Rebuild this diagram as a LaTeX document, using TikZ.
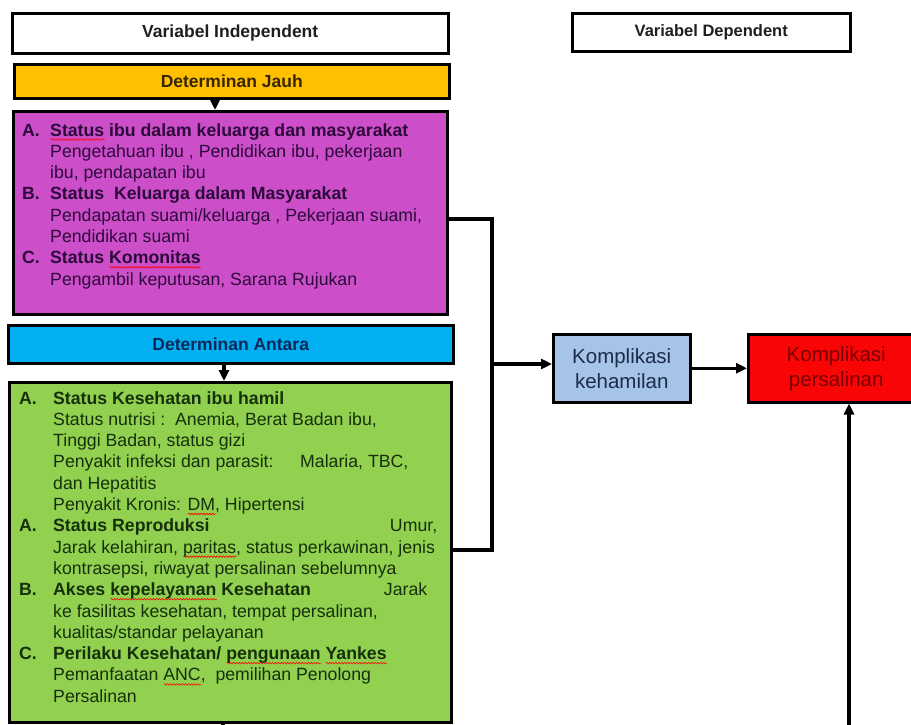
\documentclass[tikz,border=0pt]{standalone}
\usepackage{fontspec}
\setmainfont{Liberation Sans}
\usetikzlibrary{arrows.meta,decorations.pathmorphing}
\definecolor{yelfill}{RGB}{255,192,0}
\definecolor{yeltext}{RGB}{55,38,0}
\definecolor{magfill}{RGB}{204,78,200}
\definecolor{magtext}{RGB}{45,10,60}
\definecolor{antfill}{RGB}{0,176,240}
\definecolor{anttext}{RGB}{12,40,90}
\definecolor{grnfill}{RGB}{146,208,80}
\definecolor{grntext}{RGB}{22,48,12}
\definecolor{kehfill}{RGB}{166,196,232}
\definecolor{kehtext}{RGB}{28,44,78}
\definecolor{perfill}{RGB}{250,5,5}
\definecolor{pertext}{RGB}{120,0,0}
\definecolor{hdrtext}{RGB}{30,30,30}
\newcommand\sperr[1]{\setbox0=\hbox{#1}\rlap{\tikz[baseline=0pt,x=1pt,y=1pt]\draw[red, line width=0.6pt, decorate, decoration={snake, amplitude=0.8pt, segment length=3pt}] (0pt,-3.5pt) -- (\the\wd0,-3.5pt);}\box0\relax}
\begin{document}
\begin{tikzpicture}[x=1pt,y=-1pt,
  box/.style={draw=black, line width=2.5pt, inner sep=0pt, anchor=north west},
  conn/.style={line width=3.3pt},
  arr/.style={conn, -{Triangle[length=11pt,width=10pt]}},
  txt/.style={anchor=base west, inner sep=0pt, font=\fontsize{17.7}{21.3}\selectfont},
  hdr/.style={font=\bfseries\fontsize{17.5}{20}\selectfont},
  big/.style={font=\fontsize{20.5}{25}\selectfont, align=center}]
\useasboundingbox (0,0) rectangle (911,724);

% header boxes
\node[box, hdr, text=hdrtext, minimum width=436pt, minimum height=40pt] (indep) at (11,12) {Variabel Independent};
\node[box, text=hdrtext, font=\bfseries\fontsize{16.5}{20}\selectfont, minimum width=278pt, minimum height=38pt] (dep) at (571,12) {Variabel Dependent};

% left column
\node[box, hdr, fill=yelfill, text=yeltext, minimum width=435pt, minimum height=34pt] (jauh) at (13,63) {Determinan Jauh};
\node[box, fill=magfill, minimum width=434pt, minimum height=203pt] (mag) at (12,110) {};
\node[box, hdr, fill=antfill, text=anttext, minimum width=445pt, minimum height=38pt] (antara) at (7,324) {Determinan Antara};
\node[box, fill=grnfill, minimum width=442pt, minimum height=340pt] (green) at (8,381) {};

\node[txt, text=magtext] (magtxt) at (22,136) {%
\begin{tabular}[t]{@{}p{28pt}@{}l@{}}
\textbf{A.} & \textbf{\sperr{Status} ibu dalam keluarga dan masyarakat}\\
 & Pengetahuan ibu , Pendidikan ibu, pekerjaan\\
 & ibu, pendapatan ibu\\
\textbf{B.} & \textbf{Status\ \ Keluarga dalam Masyarakat}\\
 & Pendapatan suami/keluarga , Pekerjaan suami,\\
 & Pendidikan suami\\
\textbf{C.} & \textbf{Status \sperr{Komonitas}}\\
 & Pengambil keputusan, Sarana Rujukan
\end{tabular}};

\node[txt, text=grntext] (grntxt) at (19,404) {%
\begin{tabular}[t]{@{}p{34pt}@{}l@{}}
\textbf{A.} & \textbf{Status Kesehatan ibu hamil}\\
 & Status nutrisi :\ \ Anemia, Berat Badan ibu,\\
 & Tinggi Badan, status gizi\\
 & \makebox[247pt][l]{Penyakit infeksi dan parasit:}Malaria, TBC,\\
 & dan Hepatitis\\
 & Penyakit Kronis: \sperr{DM}, Hipertensi\\
\textbf{A.} & \makebox[384pt]{\textbf{Status Reproduksi}\hfill Umur,}\\
 & Jarak kelahiran, \sperr{paritas}, status perkawinan, jenis\\
 & kontrasepsi, riwayat persalinan sebelumnya\\
\textbf{B.} & \makebox[374pt]{\textbf{Akses \sperr{kepelayanan} Kesehatan}\hfill Jarak}\\
 & ke fasilitas kesehatan, tempat persalinan,\\
 & kualitas/standar pelayanan\\
\textbf{C.} & \textbf{Perilaku Kesehatan/ \sperr{pengunaan} \sperr{Yankes}}\\
 & Pemanfaatan \sperr{ANC},\ \ pemilihan Penolong\\
 & Persalinan
\end{tabular}};

% right side
\node[box, big, fill=kehfill, text=kehtext, minimum width=137pt, minimum height=68pt] (keham) at (552,333) {Komplikasi\\kehamilan};
\node[box, big, fill=perfill, text=pertext, minimum width=176pt, minimum height=68pt] (pers) at (747,333) {Komplikasi\\persalinan};

% connectors
\coordinate (ja) at (215,0);
\coordinate (an) at (224,0);
\coordinate (j1) at (492,219);
\coordinate (j2) at (492,550);
\coordinate (ka) at (492,364);
\coordinate (pb) at (849,728);
\coordinate (gb) at (223,728);

\draw[arr] (jauh.south -| ja) -- (mag.north -| ja);
\draw[arr] (antara.south -| an) -- (green.north -| an);
\draw[conn] (mag.east |- j1) -- (j1) -- (j2) -- (green.east |- j2);
\draw[arr] (ka) -- (keham.west |- ka);
\draw[arr] (keham.east) -- (pers.west);
\draw[arr] (pb) -- (pers.south -| pb);
\draw[conn] (green.south -| gb) -- (gb);
\end{tikzpicture}
\end{document}
